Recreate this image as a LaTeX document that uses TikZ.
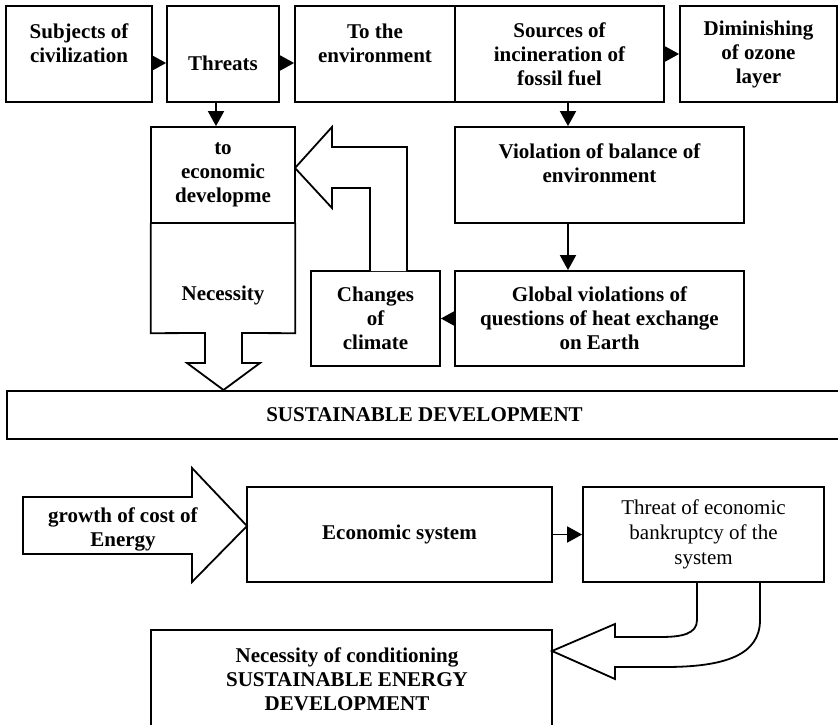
\documentclass[tikz,border=0pt]{standalone}
\usepackage{fontspec}
\setmainfont{Liberation Serif}
\usetikzlibrary{arrows.meta}
\begin{document}
\begin{tikzpicture}[x=1pt,y=-1pt,
  lw/.style={line width=1.8pt},
  box/.style={draw,lw,inner sep=0pt,align=center,font=\bfseries\fontsize{21}{24}\selectfont},
  txt/.style={inner sep=0pt,align=center,font=\bfseries\fontsize{21}{24}\selectfont},
  rtxt/.style={inner sep=0pt,align=center,font=\fontsize{21}{25}\selectfont},
  tri/.style={lw,-{Triangle[length=15pt,width=16pt]}},
  blk/.style={lw,fill=white,line join=miter}]
\useasboundingbox (0,0) rectangle (838,725);
% top row
\node[box,minimum width=146pt,minimum height=96pt] (subj) at (79,54) {};
\node[txt] (subjt) at (79,43) {Subjects of\\civilization};
\node[box,minimum width=112pt,minimum height=96pt] (threats) at (223,54) {};
\node[txt] (threatst) at (223,63) {Threats};
\node[box,minimum width=160pt,minimum height=96pt] (env) at (375,54) {};
\node[txt] (envt) at (375,43) {To the\\environment};
\node[box,minimum width=209pt,minimum height=96pt] (sources) at (559.5,54) {Sources of\\incineration of\\fossil fuel};
\node[box,minimum width=157pt,minimum height=96pt] (dimin) at (758.5,54) {Diminishing\\of ozone\\layer};
% middle
\node[box,minimum width=144pt,minimum height=96pt] (econ) at (223,175) {to\\economic\\developme};
\node[inner sep=0pt,minimum width=144pt,minimum height=110pt] (nec) at (223,278) {};
\node[txt] (nect) at (223,295) {Necessity};
\node[box,minimum width=289pt,minimum height=96pt] (viol) at (599.5,175) {};
\node[txt] (violt) at (599.5,163) {Violation of balance of\\environment};
\node[box,minimum width=289pt,minimum height=95pt] (glob) at (599.5,318.5) {Global violations of\\questions of heat exchange\\on Earth};
\node[box,minimum width=129pt,minimum height=95pt] (clim) at (375.5,318.5) {Changes\\of\\climate};
\node[box,minimum width=835pt,minimum height=48pt] (sd) at (424.5,415) {SUSTAINABLE DEVELOPMENT};
% bottom
\node[box,minimum width=305pt,minimum height=95pt] (esys) at (399.5,534.5) {Economic system};
\node[box,minimum width=241pt,minimum height=95pt,font=\fontsize{21}{25}\selectfont] (thr) at (703.5,534.5) {Threat of economic\\bankruptcy of the\\system};
\node[box,minimum width=401pt,minimum height=130pt] (ncond) at (351.5,695) {};
\node[txt] (ncondt) at (347,679) {Necessity of conditioning\\SUSTAINABLE ENERGY\\DEVELOPMENT};
% necessity box with opening and block arrow down
\draw[blk,fill=none] (nec.north west) -- (nec.south west) -- (205,333) -- (205,363) -- (187,363) -- (223.5,390) -- (260,363) -- (242,363) -- (242,333) -- (nec.south east) -- (nec.north east);
% block arrow from climate to economic box
\draw[blk] (370,271) -- (370,188) -- (332,188) -- (332,208) -- (295,168) -- (332,127) -- (332,147) -- (407,147) -- (407,271);
% growth arrow
\draw[blk] (23,497) -- (192,497) -- (192,468) -- (247,526) -- (192,582) -- (192,554) -- (23,554) -- cycle;
\node[txt] (growth) at (123,529) {growth of cost of\\Energy};
% curved block arrow
\draw[blk,fill=none] (697,582) -- (697,620) .. controls (697,634) and (682,637) .. (660,637) -- (615,637) -- (615,624) -- (552,651) -- (615,679) -- (615,667) -- (665,667) .. controls (725,667) and (760,655) .. (760,620) -- (760,582);
% connectors
\draw[tri] ([yshift=-9pt]subj.east) -- ([yshift=-9pt]threats.west);
\draw[tri] ([yshift=-9pt]threats.east) -- ([yshift=-9pt]env.west);
\draw[tri] (sources.east) -- (dimin.west);
\draw[tri] ([xshift=-7pt]threats.south) -- ([xshift=-7pt]econ.north);
\draw[tri] ([xshift=8.5pt]sources.south) -- ([xshift=8.5pt]sources.south |- viol.north);
\draw[tri] ([xshift=-31.5pt]viol.south) -- ([xshift=-31.5pt]glob.north);
\draw[tri] (glob.west) -- (clim.east);
\draw[tri] (esys.east) -- (thr.west);
\end{tikzpicture}
\end{document}
